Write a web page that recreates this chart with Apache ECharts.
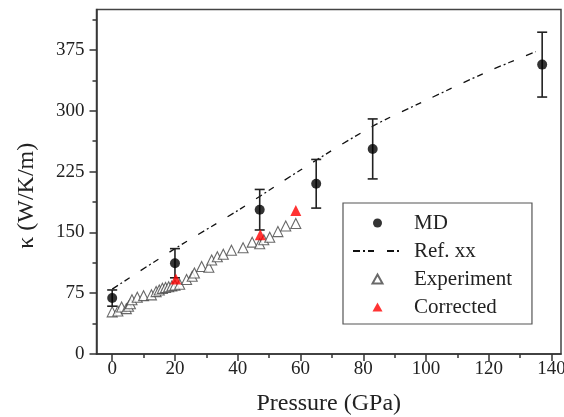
<!DOCTYPE html>
<html>
<head>
<meta charset="utf-8">
<script src="https://cdn.jsdelivr.net/npm/echarts@6/dist/echarts.min.js"></script>
<style>
  html, body { margin: 0; padding: 0; background: #fff; }
  #chart { width: 564px; height: 417px; }
</style>
</head>
<body>
<div id="chart"></div>
<script>
// Tick labels
const xTicks = [0, 20, 40, 60, 80, 100, 120, 140];
const xMinorTicks = [10, 30, 50, 70, 90, 110, 130];
const yTicks = [0, 75, 150, 225, 300, 375];
const yMinorTicks = [37.5, 112.5, 187.5, 262.5, 337.5, 412.5];

// MD (with error bars)
const mdPressure = [0, 20, 47, 65, 83, 137];
const mdKappa = [69, 112, 178, 210, 253, 357];
const mdError = [10, 18, 25, 30, 37, 40];

// Ref. xx curve
const refPressure = [0, 20, 40, 60, 83, 100, 120, 135];
const refKappa = [80, 130, 177, 227, 281, 313, 349, 373];

// Experiment
const expPressure = [0, 1.8, 3, 4.5, 5.2, 5.8, 6.3, 8, 10, 12.5, 14, 15, 16, 17, 18, 19, 20, 21.5, 23.7, 25.5, 26.2, 28.5, 30.8, 31.7, 33.5, 35.4, 38, 41.7, 44.6, 47, 48.3, 50.2, 52.8, 55.3, 58.5];
const expKappa = [52, 53, 58, 56, 59, 62, 67, 70, 72, 73, 77, 79, 81, 82, 83, 84, 85, 86, 92, 96, 100, 108, 107, 116, 120, 123, 128, 131, 138, 136, 141, 144, 151, 158, 161];

// Corrected
const corPressure = [20.3, 47.2, 58.5];
const corKappa = [92.5, 147, 177];

const FONT = 'Liberation Serif';
const AX = '#333';
const TRI = 'path://M5,0 L10,9 L0,9 Z';

const zip = (a, b) => a.map((v, i) => [v, b[i]]);

const chart = echarts.init(document.getElementById('chart'), null, { renderer: 'canvas' });

const baseX = { type: 'value', min: -5, max: 143, gridIndex: 0, position: 'bottom', splitLine: { show: false } };
const baseY = { type: 'value', min: 0, max: 425, gridIndex: 0, position: 'left', splitLine: { show: false } };

chart.setOption({
  animation: false,
  backgroundColor: '#fff',
  grid: { left: 96.5, right: 3, top: 9.5, bottom: 63, containLabel: false, outerBoundsMode: 'none', show: true, borderColor: '#444', borderWidth: 1.5, backgroundColor: 'transparent' },
  xAxis: [
    Object.assign({}, baseX, {
      name: 'Pressure (GPa)', nameLocation: 'middle', nameGap: 38,
      nameTextStyle: { fontFamily: FONT, fontSize: 24, color: '#222' },
      axisLine: { show: true, onZero: false, lineStyle: { color: AX, width: 1.5 } },
      axisTick: { show: true, inside: false, length: 7, customValues: xTicks, lineStyle: { color: AX, width: 1.5 } },
      axisLabel: { show: true, margin: 6, customValues: xTicks, fontFamily: FONT, fontSize: 19, color: '#222' }
    }),
    Object.assign({}, baseX, {
      axisLine: { show: false, onZero: false },
      axisTick: { show: true, inside: false, length: 4, customValues: xMinorTicks, lineStyle: { color: AX, width: 1.5 } },
      axisLabel: { show: false }
    })
  ],
  yAxis: [
    Object.assign({}, baseY, {
      name: 'κ (W/K/m)', nameLocation: 'middle', nameGap: 58, nameRotate: 90,
      nameTextStyle: { fontFamily: FONT, fontSize: 24, color: '#222', padding: [0, 28, 0, 0] },
      axisLine: { show: true, onZero: false, lineStyle: { color: AX, width: 1.5 } },
      axisTick: { show: true, inside: false, length: 7, customValues: yTicks, lineStyle: { color: AX, width: 1.5 } },
      axisLabel: { show: true, margin: 12, customValues: yTicks, fontFamily: FONT, fontSize: 19, color: '#222' }
    }),
    Object.assign({}, baseY, {
      axisLine: { show: false, onZero: false },
      axisTick: { show: true, inside: false, length: 4, customValues: yMinorTicks, lineStyle: { color: AX, width: 1.5 } },
      axisLabel: { show: false }
    })
  ],
  legend: {
    data: [
      { name: 'MD', icon: 'circle' },
      { name: 'Ref. xx', itemStyle: { opacity: 0 } },
      { name: 'Experiment', icon: TRI },
      { name: 'Corrected', icon: TRI }
    ],
    orient: 'vertical',
    left: 343, top: 203,
    padding: [6, 20, 3, 9],
    itemGap: 0,
    itemWidth: 49, itemHeight: 9,
    symbolKeepAspect: true,
    borderColor: '#555', borderWidth: 1.2,
    backgroundColor: '#fff',
    textStyle: { fontFamily: FONT, fontSize: 21, color: '#222', lineHeight: 28, padding: [0, 0, 0, 7] }
  },
  series: [
    {
      name: 'Ref. xx', type: 'line', xAxisIndex: 0, yAxisIndex: 0,
      data: zip(refPressure, refKappa),
      showSymbol: false, symbol: 'none', smooth: 0.3,
      lineStyle: { color: '#111', width: 1.3, type: [7, 3, 2, 3, 6, 13] },
      itemStyle: { color: '#111' },
      z: 2
    },
    {
      name: 'Experiment', type: 'scatter', xAxisIndex: 0, yAxisIndex: 0,
      data: zip(expPressure, expKappa),
      symbol: 'triangle', symbolSize: 10,
      itemStyle: { color: '#fff', borderColor: '#444', borderWidth: 1.1 },
      z: 3
    },
    {
      name: 'MD err', type: 'custom', xAxisIndex: 0, yAxisIndex: 0,
      data: mdPressure.map((p, i) => [p, mdKappa[i], mdError[i]]),
      renderItem: function (params, api) {
        const x = api.value(0), y = api.value(1), e = api.value(2);
        const top = api.coord([x, y + e]);
        const bot = api.coord([x, y - e]);
        const hw = 5;
        const style = { stroke: '#222', lineWidth: 1.6, fill: null };
        return {
          type: 'group',
          children: [
            { type: 'line', shape: { x1: top[0], y1: top[1], x2: bot[0], y2: bot[1] }, style: style },
            { type: 'line', shape: { x1: top[0] - hw, y1: top[1], x2: top[0] + hw, y2: top[1] }, style: style },
            { type: 'line', shape: { x1: bot[0] - hw, y1: bot[1], x2: bot[0] + hw, y2: bot[1] }, style: style }
          ]
        };
      },
      z: 4
    },
    {
      name: 'MD', type: 'scatter', xAxisIndex: 0, yAxisIndex: 0,
      data: zip(mdPressure, mdKappa),
      symbol: 'circle', symbolSize: 10,
      itemStyle: { color: '#000' },
      z: 5
    },
    {
      name: 'Corrected', type: 'scatter', xAxisIndex: 0, yAxisIndex: 0,
      data: zip(corPressure, corKappa),
      symbol: 'triangle', symbolSize: 11,
      itemStyle: { color: '#ff0000' },
      z: 6
    }
  ]
});
</script>
</body>
</html>
